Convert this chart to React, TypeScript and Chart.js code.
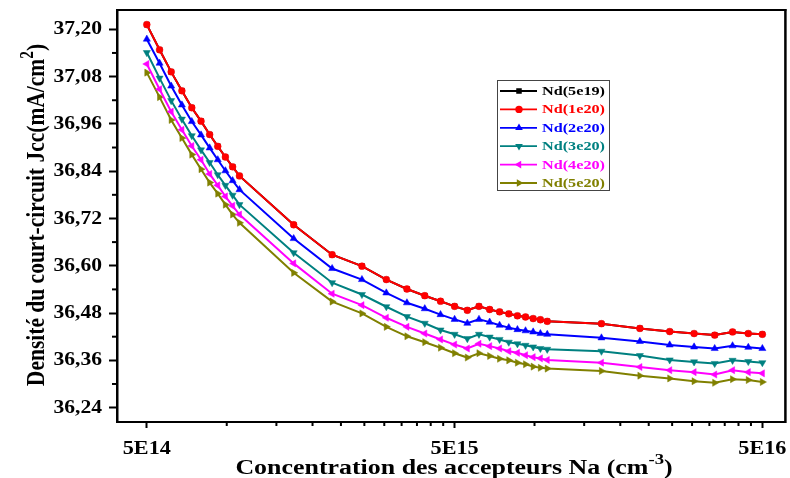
import React, { useEffect, useRef } from 'react';
import { Chart, registerables } from 'chart.js';

Chart.register(...registerables);

// Acceptor concentration Na (cm^-3)
const naValues = [
  5e14, 5.5e14, 6e14, 6.5e14, 7e14, 7.5e14, 8e14, 8.5e14, 9e14, 9.5e14, 1e15,
  1.5e15, 2e15, 2.5e15, 3e15, 3.5e15, 4e15, 4.5e15, 5e15,
  5.5e15, 6e15, 6.5e15, 7e15, 7.5e15, 8e15, 8.5e15, 9e15, 9.5e15, 1e16,
  1.5e16, 2e16, 2.5e16, 3e16, 3.5e16, 4e16, 4.5e16, 5e16,
];

// Short-circuit current density Jcc (mA/cm2) for each donor doping Nd
const jcc5e19 = [
  37.212, 37.148, 37.092, 37.044, 37.001, 36.967, 36.933, 36.903, 36.876, 36.851, 36.828,
  36.704, 36.628, 36.599, 36.565, 36.541, 36.524, 36.510, 36.497,
  36.487, 36.497, 36.489, 36.483, 36.478, 36.473, 36.470, 36.466, 36.463, 36.459,
  36.453, 36.441, 36.433, 36.428, 36.424, 36.432, 36.428, 36.426,
];
const jcc1e20 = [
  37.212, 37.148, 37.092, 37.044, 37.001, 36.967, 36.933, 36.903, 36.876, 36.851, 36.828,
  36.704, 36.628, 36.599, 36.565, 36.541, 36.524, 36.510, 36.497,
  36.487, 36.497, 36.489, 36.483, 36.478, 36.473, 36.470, 36.466, 36.463, 36.459,
  36.453, 36.441, 36.433, 36.428, 36.424, 36.432, 36.428, 36.426,
];
const jcc2e20 = [
  37.175, 37.114, 37.056, 37.008, 36.966, 36.932, 36.899, 36.869, 36.841, 36.816, 36.793,
  36.669, 36.593, 36.565, 36.531, 36.506, 36.491, 36.476, 36.464,
  36.454, 36.464, 36.457, 36.449, 36.443, 36.438, 36.435, 36.432, 36.428, 36.426,
  36.417, 36.408, 36.399, 36.394, 36.390, 36.397, 36.393, 36.390,
];
const jcc3e20 = [
  37.141, 37.076, 37.019, 36.972, 36.930, 36.894, 36.862, 36.831, 36.804, 36.779, 36.755,
  36.633, 36.557, 36.527, 36.496, 36.471, 36.454, 36.437, 36.426,
  36.415, 36.426, 36.419, 36.413, 36.406, 36.402, 36.398, 36.394, 36.390, 36.388,
  36.383, 36.372, 36.361, 36.356, 36.352, 36.360, 36.357, 36.354,
];
const jcc4e20 = [
  37.112, 37.048, 36.991, 36.945, 36.904, 36.869, 36.833, 36.804, 36.776, 36.752, 36.730,
  36.606, 36.529, 36.500, 36.468, 36.445, 36.428, 36.413, 36.400,
  36.390, 36.402, 36.396, 36.390, 36.383, 36.379, 36.373, 36.368, 36.365, 36.361,
  36.354, 36.343, 36.335, 36.330, 36.324, 36.335, 36.330, 36.327,
];
const jcc5e20 = [
  37.090, 37.028, 36.970, 36.924, 36.882, 36.845, 36.811, 36.783, 36.755, 36.730, 36.709,
  36.582, 36.509, 36.479, 36.445, 36.421, 36.406, 36.392, 36.378,
  36.367, 36.378, 36.371, 36.364, 36.360, 36.354, 36.350, 36.344, 36.341, 36.339,
  36.333, 36.321, 36.314, 36.307, 36.303, 36.312, 36.310, 36.305,
];

const seriesNames = ['Nd(5e19)', 'Nd(1e20)', 'Nd(2e20)', 'Nd(3e20)', 'Nd(4e20)', 'Nd(5e20)'];
const seriesValues = [jcc5e19, jcc1e20, jcc2e20, jcc3e20, jcc4e20, jcc5e20];

const xTickValues = [5e14, 5e15, 5e16];
const xTickLabels = ['5E14', '5E15', '5E16'];
const yTickValues = [36.24, 36.36, 36.48, 36.6, 36.72, 36.84, 36.96, 37.08, 37.2];

// styling
const seriesColors = ['#000000', '#FF0000', '#0000FF', '#008080', '#FF00FF', '#808000'];
const seriesStyles = ['rect', 'circle', 'triangle', 'triangle', 'triangle', 'triangle'];
const seriesRotations = [0, 0, 0, 180, 270, 90];
const seriesRadius = [3.6, 3.4, 4.1, 4.1, 4.1, 4.1];

const FONT = "'Liberation Serif', 'Times New Roman', serif";
const SX = 1.2; // horizontal stretch of the lettering

type Part = { t: string; sup?: boolean };

function partsWidth(ctx: CanvasRenderingContext2D, parts: Part[], size: number) {
  let w = 0;
  for (const p of parts) {
    ctx.font = `bold ${p.sup ? size * 0.72 : size}px ${FONT}`;
    w += ctx.measureText(p.t).width;
  }
  return w;
}

// draws centred rich text (with superscripts) at the current origin, baseline y = 0
function drawParts(ctx: CanvasRenderingContext2D, parts: Part[], size: number, color: string) {
  const total = partsWidth(ctx, parts, size);
  let x = -total / 2;
  ctx.fillStyle = color;
  ctx.textAlign = 'left';
  ctx.textBaseline = 'alphabetic';
  for (const p of parts) {
    const s = p.sup ? size * 0.72 : size;
    ctx.font = `bold ${s}px ${FONT}`;
    ctx.fillText(p.t, x, p.sup ? -size * 0.42 : 0);
    x += ctx.measureText(p.t).width;
  }
}

function stretchedText(
  ctx: CanvasRenderingContext2D, text: string, x: number, y: number,
  align: 'left' | 'right' | 'center', size: number, color: string,
  baseline: CanvasTextBaseline = 'alphabetic',
) {
  ctx.save();
  ctx.font = `bold ${size}px ${FONT}`;
  ctx.fillStyle = color;
  ctx.textBaseline = baseline;
  ctx.textAlign = 'left';
  const w = ctx.measureText(text).width * SX;
  const x0 = align === 'left' ? x : align === 'right' ? x - w : x - w / 2;
  ctx.translate(x0, y);
  ctx.scale(SX, 1);
  ctx.fillText(text, 0, 0);
  ctx.restore();
}

function marker(ctx: CanvasRenderingContext2D, style: string, rot: number, r: number, x: number, y: number) {
  ctx.beginPath();
  if (style === 'circle') {
    ctx.arc(x, y, r, 0, Math.PI * 2);
  } else if (style === 'rect') {
    const s = r * Math.SQRT1_2;
    ctx.rect(x - s, y - s, 2 * s, 2 * s);
  } else {
    let a = (rot * Math.PI) / 180;
    ctx.moveTo(x + Math.sin(a) * r, y - Math.cos(a) * r);
    a += (2 * Math.PI) / 3;
    ctx.lineTo(x + Math.sin(a) * r, y - Math.cos(a) * r);
    a += (2 * Math.PI) / 3;
    ctx.lineTo(x + Math.sin(a) * r, y - Math.cos(a) * r);
    ctx.closePath();
  }
  ctx.fill();
}

const decorations = {
  id: 'decorations',
  afterDraw(chart: any) {
    const ctx: CanvasRenderingContext2D = chart.ctx;
    const { left, right, top, bottom } = chart.chartArea;
    const xs = chart.scales.x;
    const ys = chart.scales.y;
    ctx.save();

    // top and right frame
    ctx.strokeStyle = '#000';
    ctx.lineWidth = 2;
    ctx.beginPath();
    ctx.moveTo(left - 1, top);
    ctx.lineTo(right + 1, top);
    ctx.stroke();
    ctx.lineWidth = 2.5;
    ctx.beginPath();
    ctx.moveTo(right, top - 1);
    ctx.lineTo(right, bottom + 1);
    ctx.stroke();

    // minor ticks
    ctx.lineWidth = 2;
    for (let i = 0; i < yTickValues.length; i++) {
      const v = yTickValues[i] + 0.06;
      if (v > ys.max) continue;
      const py = ys.getPixelForValue(v);
      ctx.beginPath();
      ctx.moveTo(left, py);
      ctx.lineTo(left - 5, py);
      ctx.stroke();
    }
    for (let i = 0; i < xTickValues.length - 1; i++) {
      const a = xTickValues[i];
      const b = xTickValues[i + 1];
      for (let k = 1; k <= 10; k++) {
        const px = xs.getPixelForValue(a + (k * (b - a)) / 11);
        ctx.beginPath();
        ctx.moveTo(px, bottom);
        ctx.lineTo(px, bottom + 4);
        ctx.stroke();
      }
    }

    // tick labels
    yTickValues.forEach((v) => {
      stretchedText(ctx, v.toFixed(2).replace('.', ','), left - 15, ys.getPixelForValue(v) + 0.5, 'right', 18, '#000', 'middle');
    });
    xTickValues.forEach((v, i) => {
      stretchedText(ctx, xTickLabels[i], xs.getPixelForValue(v), bottom + 31.5, 'center', 18.5, '#000');
    });

    // axis titles
    ctx.save();
    ctx.translate(454, 473.5);
    ctx.scale(SX, 1);
    drawParts(ctx, [{ t: 'Concentration des accepteurs Na (cm' }, { t: '-3', sup: true }, { t: ')' }], 21.6, '#000');
    ctx.restore();

    ctx.save();
    ctx.translate(43.5, (top + bottom) / 2 - 1);
    ctx.rotate(-Math.PI / 2);
    ctx.scale(1, SX);
    drawParts(ctx, [{ t: 'Densité du court-circuit Jcc(mA/cm' }, { t: '2', sup: true }, { t: ')' }], 21.5, '#000');
    ctx.restore();

    // legend
    const bx = 497, by = 80, bw = 112, bh = 110;
    ctx.fillStyle = '#fff';
    ctx.fillRect(bx, by, bw, bh);
    ctx.strokeStyle = '#444';
    ctx.lineWidth = 1;
    ctx.strokeRect(bx + 0.5, by + 0.5, bw, bh);
    seriesNames.forEach((name, i) => {
      const ry = by + 11 + i * 18.4;
      ctx.strokeStyle = seriesColors[i];
      ctx.fillStyle = seriesColors[i];
      ctx.lineWidth = 1.8;
      ctx.beginPath();
      ctx.moveTo(500, ry);
      ctx.lineTo(537, ry);
      ctx.stroke();
      marker(ctx, seriesStyles[i], seriesRotations[i], seriesRadius[i] + 0.3, 519, ry);
      stretchedText(ctx, name, 542, ry + 0.5, 'left', 13.5, seriesColors[i], 'middle');
    });

    ctx.restore();
  },
};

export default function App() {
  const canvasRef = useRef<HTMLCanvasElement | null>(null);

  useEffect(() => {
    document.body.style.margin = '0';
    const canvas = canvasRef.current;
    if (!canvas) return;

    const datasets = seriesNames.map((name, i) => ({
      label: name,
      data: naValues.map((x, j) => ({ x, y: seriesValues[i][j] })),
      borderColor: seriesColors[i],
      backgroundColor: seriesColors[i],
      borderWidth: 2,
      pointStyle: seriesStyles[i] as any,
      pointRotation: seriesRotations[i],
      pointRadius: seriesRadius[i],
      pointBorderWidth: 0.5,
      tension: 0,
      order: i === 0 ? 1 : 0,
    }));

    const chart = new Chart(canvas, {
      type: 'line',
      data: { datasets },
      options: {
        responsive: false,
        animation: false,
        devicePixelRatio: 1,
        layout: { padding: { top: 10, right: 4, left: 0, bottom: 0 } },
        plugins: { legend: { display: false }, tooltip: { enabled: false } },
        scales: {
          x: {
            type: 'logarithmic',
            min: 4.0e14,
            max: 5.94e16,
            afterBuildTicks: (s: any) => {
              s.ticks = xTickValues.map((v) => ({ value: v }));
            },
            afterFit: (s: any) => {
              s.height = 56;
            },
            ticks: { display: false },
            grid: { display: true, drawOnChartArea: false, drawTicks: true, tickLength: 6, tickWidth: 2, tickColor: '#000' },
            border: { display: true, color: '#000', width: 2 },
          },
          y: {
            type: 'linear',
            min: 36.2035,
            max: 37.249,
            afterBuildTicks: (s: any) => {
              s.ticks = yTickValues.map((v) => ({ value: v }));
            },
            afterFit: (s: any) => {
              s.width = 117;
            },
            ticks: { display: false },
            grid: { display: true, drawOnChartArea: false, drawTicks: true, tickLength: 8, tickWidth: 2, tickColor: '#000' },
            border: { display: true, color: '#000', width: 2.5 },
          },
        },
      },
      plugins: [decorations],
    });

    return () => chart.destroy();
  }, []);

  return (
    <div style={{ width: 790, height: 478, background: '#fff' }}>
      <canvas ref={canvasRef} width={790} height={478} style={{ display: 'block' }} />
    </div>
  );
}
